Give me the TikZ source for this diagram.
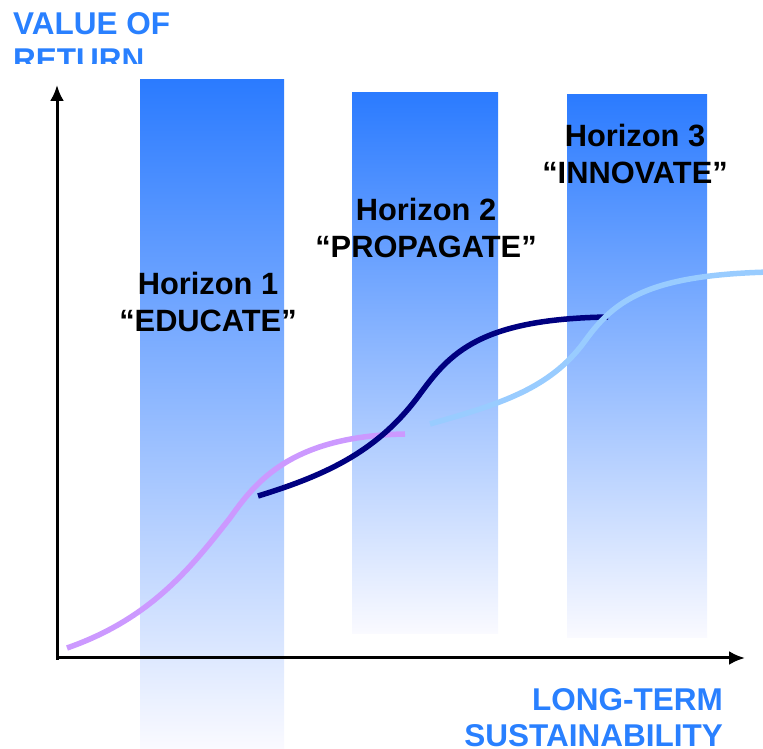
\documentclass[tikz,border=0pt]{standalone}
\usepackage{fontspec}
\setmainfont{Liberation Sans}
\usetikzlibrary{arrows.meta}

\definecolor{axisblue}{RGB}{41,128,255}
\definecolor{bartop}{RGB}{43,123,255}
\definecolor{barmid}{RGB}{135,162,255}
\definecolor{barbot}{RGB}{250,250,255}
\definecolor{hone}{RGB}{204,153,255}
\definecolor{htwo}{RGB}{0,0,128}
\definecolor{hthree}{RGB}{153,204,255}

\begin{document}
\begin{tikzpicture}[x=1pt, y=1pt,
  bar/.style={top color=bartop, middle color=barmid, bottom color=barbot, draw=none},
  horizon/.style={align=center, anchor=base, inner sep=0pt,
    font=\fontsize{30.8}{37}\selectfont\bfseries},
  axislabel/.style={inner sep=0pt, text=axisblue,
    font=\fontsize{31.5}{36}\selectfont\bfseries},
  curve/.style={line width=5.5pt}]
\clip (0,0) rectangle (763,749);

% bars
\shade[bar] (140,0) rectangle (284,669);
\shade[bar] (352,115) rectangle (498,656);
\shade[bar] (567,111) rectangle (707,654);

% axes
\coordinate (origin) at (57,91);
\coordinate (ytop) at (57,664);
\coordinate (xend) at (745,91);
\draw[line width=3pt, -{Latex[length=16pt,width=14pt]}] (57,89) -- (ytop);
\draw[line width=3pt, -{Latex[length=16pt,width=14pt]}] (origin) -- (xend);

% horizon labels (base = last line)
\node[horizon] (h1) at (208,417) {Horizon 1\\“EDUCATE”};
\node[horizon] (h2) at (426,491) {Horizon 2\\“PROPAGATE”};
\node[horizon] (h3) at (635,565) {Horizon 3\\“INNOVATE”};

% growth curves
\draw[curve, hone] (67,101) .. controls (150,130) and (190,180) .. (230,231)
  .. controls (255,266) and (290,313) .. (405,315);
\draw[curve, htwo] (258,253) .. controls (330,275) and (380,300) .. (420,355)
  .. controls (450,396) and (480,430) .. (608,432);
\draw[curve, hthree] (430,325) .. controls (500,345) and (550,360) .. (585,408)
  .. controls (615,450) and (650,474) .. (770,477);

% axis titles
\begin{scope}
\clip (0,685) rectangle (300,749);
\node[axislabel, align=left, anchor=base west] (ylab) at (13,678) {VALUE OF\\RETURN};
\end{scope}
\node[axislabel, align=right, anchor=base east] (xlab) at (723,2) {LONG-TERM\\SUSTAINABILITY};
\end{tikzpicture}
\end{document}
